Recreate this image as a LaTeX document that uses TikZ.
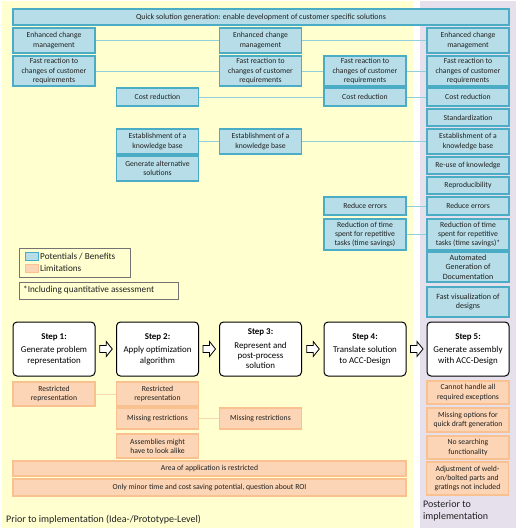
\documentclass[tikz,border=0pt]{standalone}
\usepackage{fontspec}
\setmainfont{Carlito}
\usetikzlibrary{calc}
\definecolor{benfill}{HTML}{B7DEE8}
\definecolor{bendraw}{HTML}{4BACC6}
\definecolor{benline}{HTML}{92CDDC}
\definecolor{limfill}{HTML}{FBD5B5}
\definecolor{limdraw}{HTML}{F9C090}
\definecolor{limline}{HTML}{FAD6B0}
\definecolor{bgyellow}{HTML}{FFFFD0}
\definecolor{bglav}{HTML}{E5E0EC}
\definecolor{txt}{HTML}{202020}
\tikzset{
  ben/.style={draw=bendraw, fill=benfill, line width=1.2pt, align=center, inner sep=0pt,
    font=\fontsize{7.7}{9.3}\selectfont, text=txt, minimum width=82pt},
  lim/.style={draw=limdraw, fill=limfill, line width=1.2pt, align=center, inner sep=0pt,
    font=\fontsize{7.7}{9.3}\selectfont, text=txt, minimum width=82pt},
  stepbox/.style={draw=black, fill=white, line width=1pt, rounded corners=4pt, align=center,
    inner sep=0pt, minimum width=82pt, minimum height=54pt, font=\fontsize{8.9}{10.4}\selectfont},
  blink/.style={draw=benline, line width=0.9pt},
  olink/.style={draw=limline, line width=0.9pt},
  legbox/.style={draw=gray!90!black, line width=0.8pt},
  blockarrow/.pic={\draw[black, fill=white, line width=0.8pt, line join=miter]
    (-6,-3.5) -- (0.5,-3.5) -- (0.5,-7.5) -- (6.5,0) -- (0.5,7.5) -- (0.5,3.5) -- (-6,3.5) -- cycle;},
}
\begin{document}
\begin{tikzpicture}[x=1pt,y=-1pt]
\useasboundingbox (0,0) rectangle (520,531);
\fill[white] (0,0) rectangle (520,531);
\fill[bgyellow] (2,1) rectangle (413,528);
\fill[bglav] (420,1) rectangle (516,528);

% top bar
\node[ben, minimum width=496pt, minimum height=16pt, font=\fontsize{7.9}{9.3}\selectfont] (top) at (261,17) {Quick solution generation: enable development of customer specific solutions};

% benefits
\node[ben, minimum height=25pt] (ecm1) at (54,40.5) {Enhanced change\\management};
\node[ben, minimum height=25pt] (ecm3) at (260.5,40.5) {Enhanced change\\management};
\node[ben, minimum height=25pt] (ecm5) at (468,40.5) {Enhanced change\\management};

\node[ben, minimum height=30pt] (fr1) at (54,71) {Fast reaction to\\changes of customer\\requirements};
\node[ben, minimum height=30pt] (fr3) at (260.5,71) {Fast reaction to\\changes of customer\\requirements};
\node[ben, minimum height=30pt] (fr4) at (365,71) {Fast reaction to\\changes of customer\\requirements};
\node[ben, minimum height=30pt] (fr5) at (468,71) {Fast reaction to\\changes of customer\\requirements};

\node[ben, minimum height=18pt] (cr2) at (157.5,97) {Cost reduction};
\node[ben, minimum height=18pt] (cr4) at (365,97) {Cost reduction};
\node[ben, minimum height=18pt] (cr5) at (468,97) {Cost reduction};

\node[ben, minimum height=17pt] (std5) at (468,117.5) {Standardization};

\node[ben, minimum height=25pt] (kb2) at (157.5,141.5) {Establishment of a\\knowledge base};
\node[ben, minimum height=25pt] (kb3) at (260.5,141.5) {Establishment of a\\knowledge base};
\node[ben, minimum height=25pt] (kb5) at (468,141.5) {Establishment of a\\knowledge base};

\node[ben, minimum height=25pt] (gas2) at (157.5,168.5) {Generate alternative\\solutions};
\node[ben, minimum height=17pt] (ru5) at (468,165.5) {Re-use of knowledge};
\node[ben, minimum height=17pt] (rp5) at (468,185.5) {Reproducibility};

\node[ben, minimum height=18pt] (re4) at (365,206) {Reduce errors};
\node[ben, minimum height=18pt] (re5) at (468,206) {Reduce errors};

\node[ben, minimum height=31pt] (rt4) at (365,234.5) {Reduction of time\\spent for repetitive\\tasks (time savings)};
\node[ben, minimum height=31pt] (rt5) at (468,234.5) {Reduction of time\\spent for repetitive\\tasks (time savings)*};

\node[ben, minimum height=30pt, font=\fontsize{8}{9.7}\selectfont] (agd5) at (468,267) {Automated\\Generation of\\Documentation};
\node[ben, minimum height=30pt, font=\fontsize{8}{9.7}\selectfont] (fvd5) at (468,302) {Fast visualization of\\designs};

% benefit links
\draw[blink] (ecm1.east) -- (ecm3.west);
\draw[blink] (ecm3.east) -- (ecm5.west);
\draw[blink] (fr1.east) -- (fr3.west);
\draw[blink] (fr3.east) -- (fr4.west);
\draw[blink] (fr4.east) -- (fr5.west);
\draw[blink] (cr2.east) -- (cr4.west);
\draw[blink] (cr4.east) -- (cr5.west);
\draw[blink] (kb2.east) -- (kb3.west);
\draw[blink] (kb3.east) -- (kb5.west);
\draw[blink] (re4.east) -- (re5.west);
\draw[blink] (rt4.east) -- (rt5.west);

% legend
\node[legbox, minimum width=111pt, minimum height=29pt, inner sep=0pt] (leg) at (74.5,262.5) {};
\node[draw=bendraw, fill=benfill, line width=0.8pt, minimum width=13pt, minimum height=8pt, inner sep=0pt] (lsw1) at (31.5,256) {};
\node[draw=limdraw, fill=limfill, line width=0.8pt, minimum width=13pt, minimum height=8pt, inner sep=0pt] (lsw2) at (31.5,268) {};
\node[anchor=west, inner sep=0pt, font=\fontsize{9.2}{11}\selectfont, text=txt] (lt1) at (40,256) {Potentials / Benefits};
\node[anchor=west, inner sep=0pt, font=\fontsize{9.2}{11}\selectfont, text=txt] (lt2) at (40,268) {Limitations};
\node[legbox, minimum width=159pt, minimum height=17pt, inner sep=0pt] (leg2) at (98.5,290.5) {};
\node[anchor=west, inner sep=0pt, font=\fontsize{9.2}{11}\selectfont, text=txt] (lt3) at (23,290.5) {*Including quantitative assessment};

% steps
\node[stepbox] (s1) at (54,349) {\textbf{Step 1:}\\[3pt]Generate problem\\representation};
\node[stepbox] (s2) at (157.5,349) {\textbf{Step 2:}\\[3pt]Apply optimization\\algorithm};
\node[stepbox] (s3) at (260.5,349) {\textbf{Step 3:}\\[3pt]Represent and\\post-process\\solution};
\node[stepbox] (s4) at (365,349) {\textbf{Step 4:}\\[3pt]Translate solution\\to ACC-Design};
\node[stepbox] (s5) at (468,349) {\textbf{Step 5:}\\[3pt]Generate assembly\\with ACC-Design};

\path ($(s1.east)!0.5!(s2.west)$) pic {blockarrow};
\path ($(s2.east)!0.5!(s3.west)$) pic {blockarrow};
\path ($(s3.east)!0.5!(s4.west)$) pic {blockarrow};
\path ($(s4.east)!0.5!(s5.west)$) pic {blockarrow};

% limitations
\node[lim, minimum height=24pt] (rr1) at (54,394) {Restricted\\representation};
\node[lim, minimum height=24pt] (rr2) at (157.5,394) {Restricted\\representation};
\node[lim, minimum height=21pt] (mr2) at (157.5,418.5) {Missing restrictions};
\node[lim, minimum height=21pt] (mr3) at (260.5,418.5) {Missing restrictions};
\node[lim, minimum height=24pt] (aml2) at (157.5,446) {Assemblies might\\have to look alike};
\node[lim, minimum width=393pt, minimum height=15pt] (area) at (209.5,468.5) {Area of application is restricted};
\node[lim, minimum width=393pt, minimum height=17pt] (minor) at (209.5,487.5) {Only minor time and cost saving potential, question about ROI};

\node[lim, minimum height=23pt] (ch5) at (468,392.5) {Cannot handle all\\required exceptions};
\node[lim, minimum height=24pt] (mo5) at (468,420) {Missing options for\\quick draft generation};
\node[lim, minimum height=23pt] (ns5) at (468,447.5) {No searching\\functionality};
\node[lim, minimum height=33pt] (adj5) at (467.5,478.5) {Adjustment of weld-\\on/bolted parts and\\gratings not included};

\draw[olink] (rr1.east) -- (rr2.west);
\draw[olink] (mr2.east) -- (mr3.west);

% footers
\node[anchor=west, inner sep=0pt, font=\fontsize{10}{12}\selectfont, text=txt] (prior) at (6,520) {Prior to implementation (Idea-/Prototype-Level)};
\node[anchor=north west, inner sep=0pt, align=left, font=\fontsize{10}{12.5}\selectfont, text=txt] (post) at (423,500) {Posterior to\\implementation};
\end{tikzpicture}
\end{document}
